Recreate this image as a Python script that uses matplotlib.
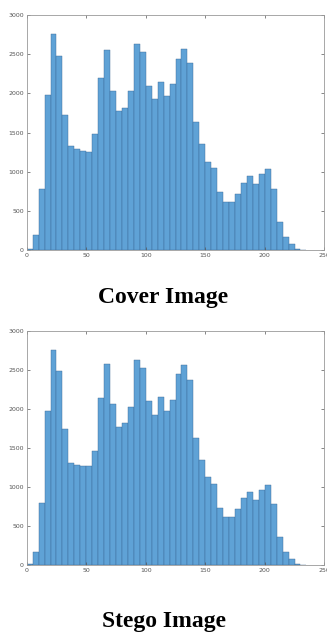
"""
Grey-level histograms of the cover and stego images.
"""
import numpy as np
from matplotlib import pyplot as plt

BIN_WIDTH = 5
BIN_EDGES = np.arange(0, 240, BIN_WIDTH)

COVER_COUNTS = [15, 191, 783, 1979, 2766, 2485, 1728, 1323, 1289, 1268, 1255, 1481,
                2200, 2557, 2026, 1779, 1813, 2026, 2626, 2528, 2098, 1928, 2149, 1974,
                2115, 2434, 2574, 2383, 1634, 1349, 1128, 1043, 736, 609, 617, 719,
                855, 940, 838, 966, 1030, 783, 362, 162, 72, 12, 5]
STEGO_COUNTS = [12, 170, 800, 1979, 2753, 2481, 1745, 1311, 1281, 1272, 1272, 1464,
                2145, 2579, 2064, 1762, 1813, 2030, 2630, 2528, 2098, 1923, 2157, 1974,
                2119, 2447, 2562, 2370, 1630, 1349, 1128, 1043, 736, 609, 617, 719,
                855, 940, 838, 966, 1030, 783, 362, 162, 72, 12, 5]

X_TICKS = [0, 50, 100, 150, 200, 250]
Y_TICKS = [0, 500, 1000, 1500, 2000, 2500, 3000]
TITLES = ["Cover Image", "Stego Image"]

FACE = '#5fa2d6'
EDGE = '#3a6894'


def draw_hist(ax, counts):
    ax.bar(BIN_EDGES[:len(counts)], counts, width=BIN_WIDTH, align='edge',
           color=FACE, edgecolor=EDGE, linewidth=0.3)
    ax.set_xlim(0, 250)
    ax.set_ylim(0, 3000)
    ax.set_xticks(X_TICKS)
    ax.set_yticks(Y_TICKS)
    ax.tick_params(direction='in', length=2, width=0.5, labelsize=4.5,
                   colors='#555555', top=True, right=True, pad=2)
    for s in ax.spines.values():
        s.set_color('#999999')
        s.set_linewidth(0.6)


fig = plt.figure(figsize=(3.27, 6.33), dpi=100)

ax1 = fig.add_axes([0.0817, 0.605, 0.910, 0.371])
draw_hist(ax1, COVER_COUNTS)
ax2 = fig.add_axes([0.0817, 0.1074, 0.910, 0.370])
draw_hist(ax2, STEGO_COUNTS)

fig.text(0.5, 0.521, TITLES[0], ha='center', va='baseline',
         family='Liberation Serif', fontweight='bold', fontsize=17)
fig.text(0.5, 0.0095, TITLES[1], ha='center', va='baseline',
         family='Liberation Serif', fontweight='bold', fontsize=17)

fig.savefig('out.png', dpi=100)
